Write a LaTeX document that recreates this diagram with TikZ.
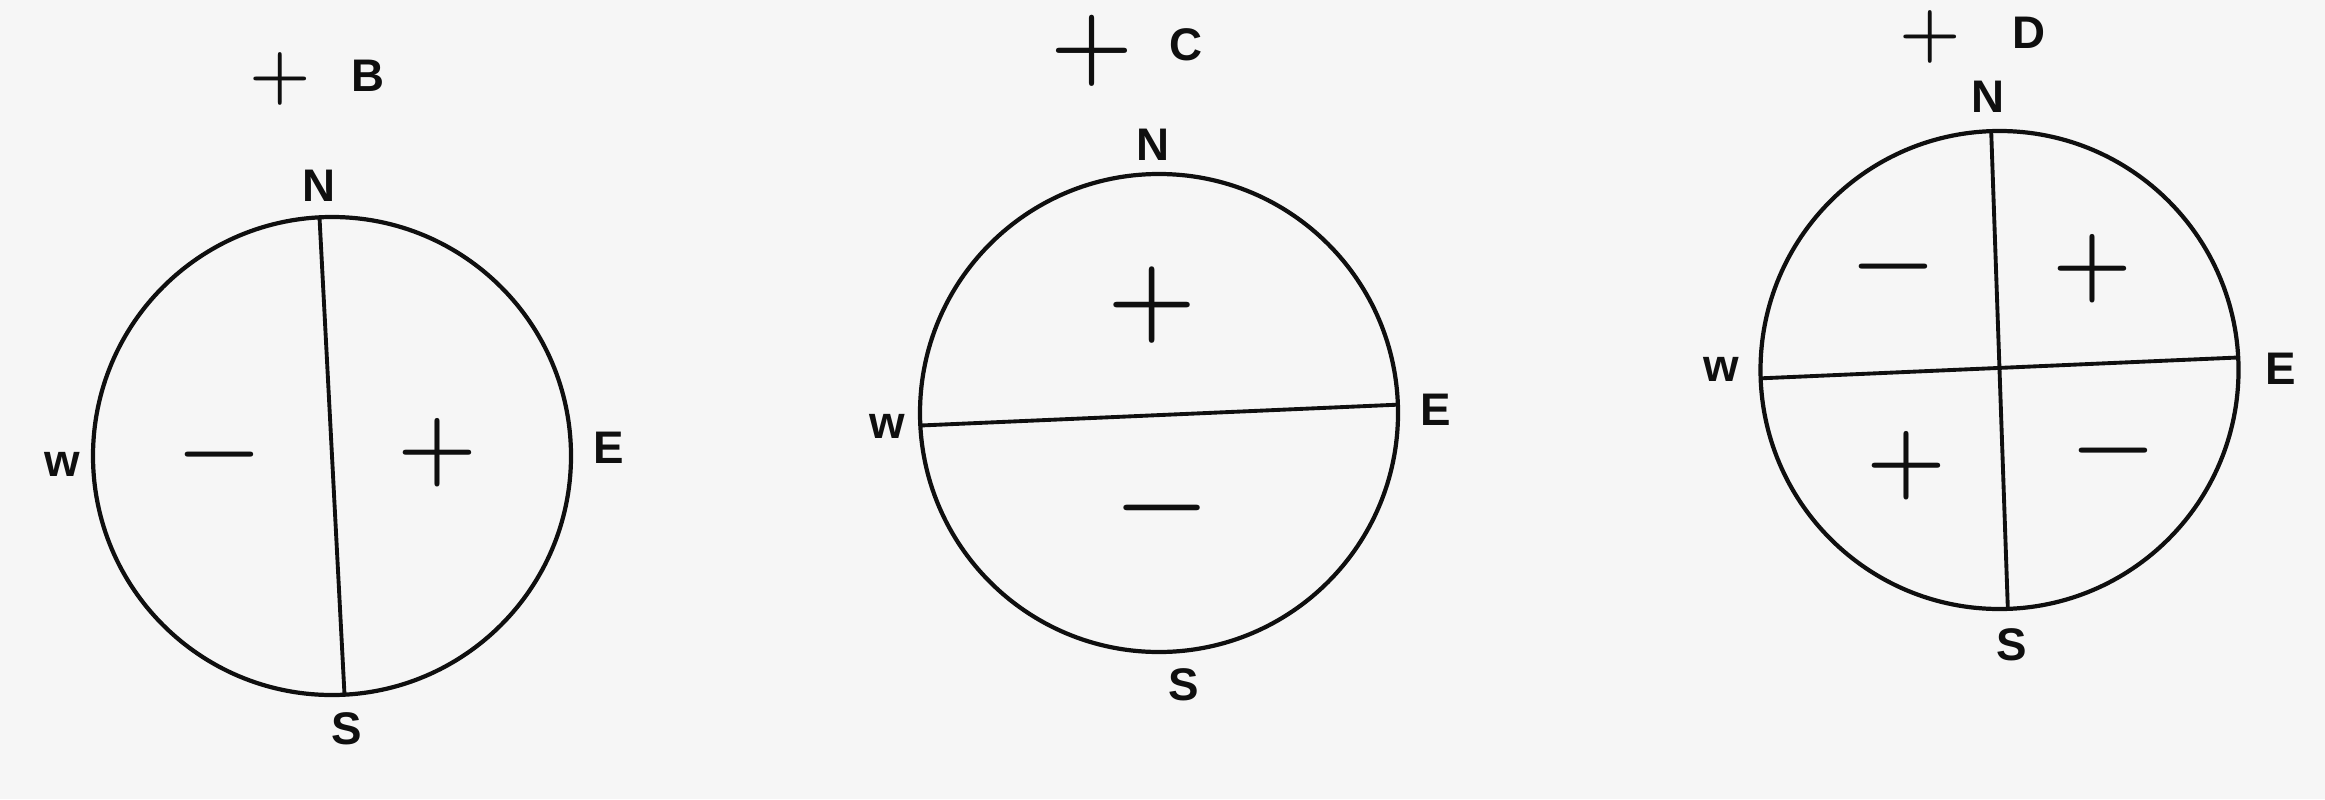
\documentclass[tikz,border=0pt]{standalone}
\usepackage{fontspec}
\setsansfont{Liberation Sans}
\usetikzlibrary{positioning}
\definecolor{paperclr}{RGB}{246,246,246}
\definecolor{inkclr}{RGB}{15,15,15}
\tikzset{
  disc/.style={circle,draw=inkclr,line width=1.2pt,minimum size=4.78cm,
    inner sep=0pt,outer sep=0pt},
  cut/.style={draw=inkclr,line width=1.1pt},
  dir/.style={font=\sffamily\bfseries\fontsize{13}{15}\selectfont,
    text=inkclr,inner sep=1pt},
  sgn/.style={font=\rmfamily\bfseries\fontsize{26}{30}\selectfont,text=inkclr,inner sep=0pt},
  pole/.style={font=\rmfamily\bfseries\fontsize{20}{24}\selectfont,text=inkclr,inner sep=0pt},
}
\begin{document}
\begin{tikzpicture}
  \fill[paperclr] (0,0) rectangle (23.25,7.99);
  \useasboundingbox (0,0) rectangle (23.25,7.99);

  % B
  \node[disc] (cb) at (3.32,3.43) {};
  \draw[cut] (cb.93) -- (cb.273);
  \node[pole] (bp) at (2.80,7.20) {+};
  \node[dir]  (bl) at (3.68,7.23) {B};
  \node[dir] (bn) at (3.19,6.13) {N};
  \node[dir] (bs) at (3.47,0.70) {S};
  \node[dir] (bw) at (0.62,3.35) {w};
  \node[dir] (be) at (6.09,3.51) {E};
  \node[sgn] (bm) at (2.19,3.34) {−};
  \node[sgn] (bq) at (4.37,3.46) {+};

  % C
  \node[disc] (cc) at (11.59,3.86) {};
  \draw[cut] (cc.183.4) -- (cc.2.2);
  \node[pole,font=\rmfamily\bfseries\fontsize{27}{30}\selectfont] (cp) at (10.92,7.48) {+};
  \node[dir]  (cl) at (11.86,7.54) {C};
  \node[dir] (cn) at (11.53,6.54) {N};
  \node[dir] (cs) at (11.84,1.14) {S};
  \node[dir] (cw) at (8.87,3.73) {w};
  \node[dir] (ce) at (14.36,3.89) {E};
  \node[sgn,font=\rmfamily\bfseries\fontsize{29}{32}\selectfont] (cq) at (11.52,4.94) {+};
  \node[sgn,font=\rmfamily\bfseries\fontsize{29}{32}\selectfont] (cm) at (11.62,2.80) {−};

  % D
  \node[disc] (cd) at (19.995,4.29) {};
  \draw[cut] (cd.92.5) -- (cd.272.3);
  \draw[cut] (cd.182.4) -- (cd.3.1);
  \node[pole] (dp) at (19.30,7.62) {+};
  \node[dir]  (dl) at (20.29,7.66) {D};
  \node[dir] (dn) at (19.88,7.02) {N};
  \node[dir] (ds) at (20.12,1.54) {S};
  \node[dir] (dw) at (17.21,4.30) {w};
  \node[dir] (de) at (22.81,4.30) {E};
  \node[sgn] (dm1) at (18.93,5.22) {−};
  \node[sgn] (dq1) at (20.92,5.30) {+};
  \node[sgn] (dq2) at (19.06,3.33) {+};
  \node[sgn] (dm2) at (21.13,3.38) {−};
\end{tikzpicture}
\end{document}
